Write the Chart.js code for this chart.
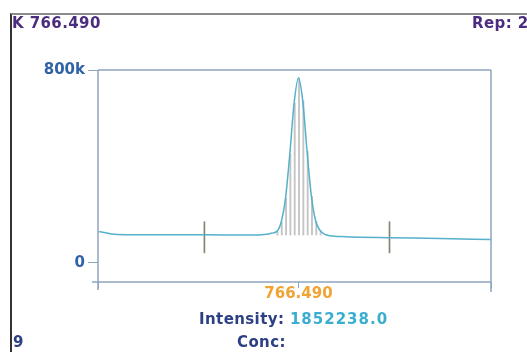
<!DOCTYPE html>
<html>
<head>
<meta charset="utf-8">
<script src="https://cdn.jsdelivr.net/npm/chart.js@4/dist/chart.umd.min.js"></script>
<style>
  html, body { margin: 0; padding: 0; background: #ffffff; }
  #wrap { position: relative; width: 527px; height: 352px; overflow: hidden; background: #fff; }
  #frame { position: absolute; left: 10px; top: 13px; width: 530px; height: 350px;
           border-top: 2px solid #8c8c8c; border-left: 2px solid #333; }
  canvas { position: absolute; left: 0; top: 0; }
  .t { position: absolute; font-family: "DejaVu Sans", Verdana, sans-serif; font-weight: bold;
       font-size: 15px; white-space: nowrap; line-height: 1; letter-spacing: 0.4px; }
</style>
</head>
<body>
<div id="wrap">
  <canvas id="c" width="527" height="352"></canvas>
  <div id="frame"></div>
  <div class="t" style="left:12px; top:16px; color:#4b2c7e;">K 766.490</div>
  <div class="t" style="left:472px; top:16px; color:#4b2c7e;">Rep: 2</div>
  <div class="t" style="left:199px; top:312px;"><span style="color:#2d3f85;">Intensity: </span><span style="color:#3aaed0; letter-spacing:1px;">1852238.0</span></div>
  <div class="t" style="left:237px; top:335px; color:#2d3f85;">Conc:</div>
  <div class="t" style="left:13px; top:335px; color:#2d3f85;">9</div>
</div>
<script>
// Spectral window around the K 766.490 nm line
const centerWl = 766.490;
const wlMin = 766.439;
const wlMax = 766.539;

// Y axis
const yMin = -80000;
const yMax = 800000;
const yTicks = [0, 800000];

// Detector pixel readings across the peak (nm, counts)
const pixelWl = [766.4845, 766.4856, 766.4867, 766.4878, 766.4889, 766.4900,
                 766.4911, 766.4922, 766.4933, 766.4944, 766.4955];
const pixelCounts = [130000, 168000, 266000, 450000, 662000, 767000,
                     672000, 462000, 276000, 172000, 134000];
const pixelBase = 115000;

// Full spectral profile (nm, counts)
const profileWl = [766.4393, 766.4410, 766.4431, 766.4471, 766.4573, 766.4662,
                   766.4751, 766.4797, 766.4818, 766.4830,
                   766.4845, 766.4856, 766.4867, 766.4878, 766.4889, 766.4900,
                   766.4911, 766.4922, 766.4933, 766.4944, 766.4955,
                   766.4965, 766.4980, 766.5019, 766.5133, 766.5260, 766.5390];
const profileCounts = [130000, 124000, 118000, 116000, 116000, 116000,
                       115000, 115000, 118000, 122000,
                       130000, 168000, 266000, 450000, 662000, 767000,
                       672000, 462000, 276000, 172000, 134000,
                       120000, 112000, 108000, 104000, 101000, 96000];

// Background correction points
const bgWl = [766.4662, 766.5133];
const bgLow = [41000, 41000];
const bgHigh = [170000, 170000];

const axisColor = '#8fa5bd';

const framePlugin = {
  id: 'frame',
  afterDraw(chart) {
    const a = chart.chartArea, ctx = chart.ctx;
    ctx.save();
    ctx.strokeStyle = axisColor;
    ctx.lineWidth = 1.5;
    ctx.beginPath();
    ctx.moveTo(a.left, a.top); ctx.lineTo(a.right, a.top);
    ctx.moveTo(a.left, a.top); ctx.lineTo(a.left, a.bottom + 8);
    ctx.moveTo(a.left - 6, a.bottom); ctx.lineTo(a.right, a.bottom);
    ctx.moveTo(a.right, a.top); ctx.lineTo(a.right, a.bottom + 10);
    ctx.stroke();
    ctx.restore();
  }
};

new Chart(document.getElementById('c'), {
  data: {
    datasets: [
      {
        type: 'bar',
        data: pixelWl.map((w, i) => ({ x: w, y: [pixelBase, pixelCounts[i]] })),
        backgroundColor: '#c4c4c4',
        barThickness: 1.2,
        order: 3
      },
      {
        type: 'bar',
        data: bgWl.map((w, i) => ({ x: w, y: [bgLow[i], bgHigh[i]] })),
        backgroundColor: '#7d8770',
        barThickness: 1,
        order: 2
      },
      {
        type: 'line',
        data: profileWl.map((w, i) => ({ x: w, y: profileCounts[i] })),
        borderColor: '#55b0cc',
        borderWidth: 1.5,
        pointRadius: 0,
        cubicInterpolationMode: 'monotone',
        order: 1
      }
    ]
  },
  options: {
    responsive: false,
    animation: false,
    layout: { padding: { left: 0, right: 36, top: 70, bottom: 50 } },
    plugins: { legend: { display: false }, tooltip: { enabled: false } },
    scales: {
      x: {
        type: 'linear',
        min: wlMin, max: wlMax,
        offset: false,
        border: { display: false },
        grid: { drawOnChartArea: false, offset: false, tickLength: 6, color: axisColor, lineWidth: 1 },
        afterBuildTicks(s) { s.ticks = [wlMin, centerWl, wlMax].map(v => ({ value: v })); },
        afterFit(s) { s.height = 20; },
        ticks: {
          autoSkip: false, maxRotation: 0, padding: -3,
          color: '#f0a436',
          font: { family: 'DejaVu Sans', weight: 'bold', size: 15 },
          callback: v => (Math.abs(v - centerWl) < 1e-6 ? centerWl.toFixed(3) : '')
        }
      },
      y: {
        min: yMin, max: yMax,
        border: { display: false },
        grid: { drawOnChartArea: false, offset: false, tickLength: 10, color: axisColor },
        afterBuildTicks(s) { s.ticks = yTicks.map(v => ({ value: v })); },
        afterFit(s) { s.width = 98; },
        ticks: {
          padding: 3,
          color: '#2f62a6',
          font: { family: 'DejaVu Sans', weight: 'bold', size: 15 },
          callback: v => (v === 0 ? '0' : (v / 1000) + 'k')
        }
      }
    }
  },
  plugins: [framePlugin]
});
</script>
</body>
</html>
